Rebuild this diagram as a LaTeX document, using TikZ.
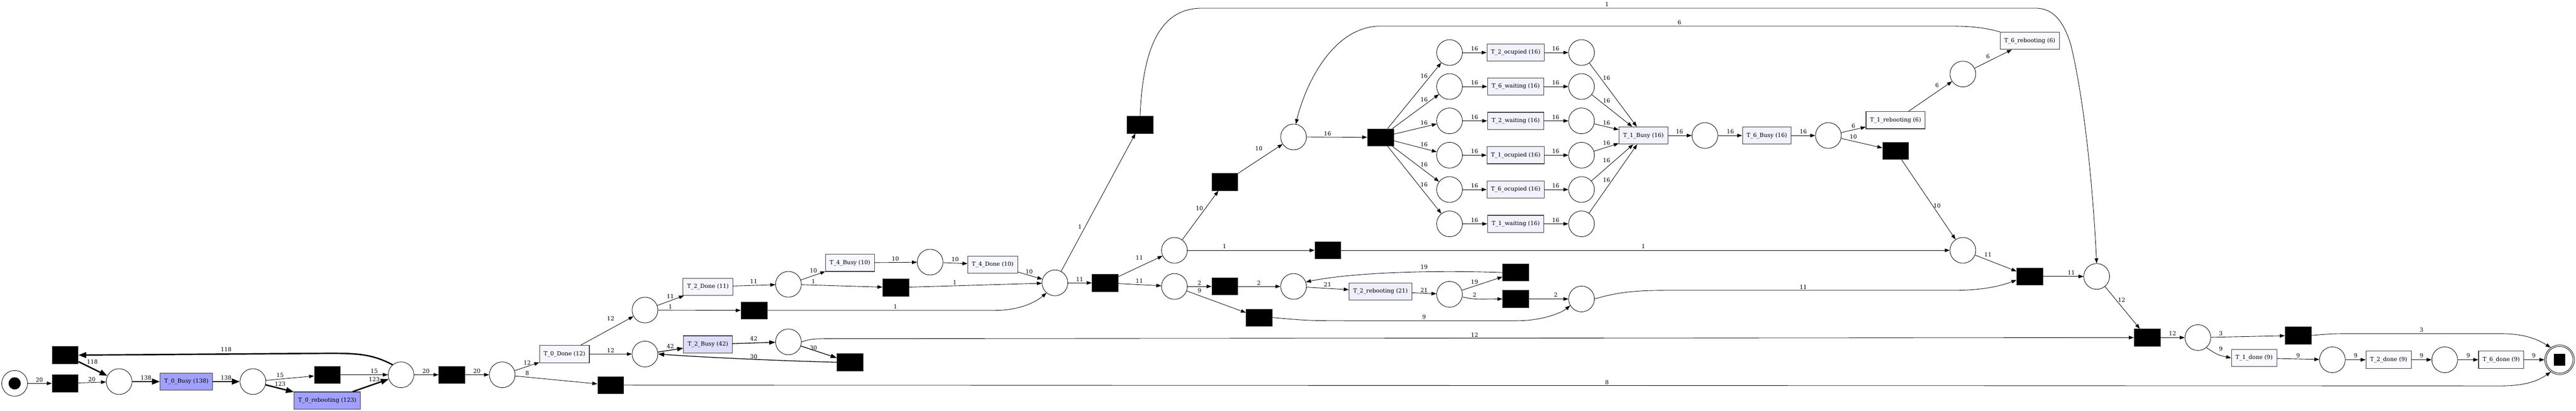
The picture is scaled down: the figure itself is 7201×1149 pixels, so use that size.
\documentclass[tikz,border=0pt]{standalone}
\usepackage{fontspec}
\setmainfont{DejaVu Serif}
\usetikzlibrary{arrows.meta}
\definecolor{busyblue}{RGB}{160,160,255}
\definecolor{lav}{RGB}{221,221,252}
\definecolor{lav2}{RGB}{238,238,253}
\definecolor{lav3}{RGB}{242,242,255}
\definecolor{pale}{RGB}{246,246,255}
\definecolor{pale2}{RGB}{249,249,255}
\definecolor{bord}{RGB}{60,60,60}
\begin{document}
\begin{tikzpicture}[x=0.01cm,y=-0.01cm,
 every node/.style={font=\fontsize{4.52}{5.4}\selectfont},
 plc/.style={circle,draw=black,line width=0.35pt,minimum size=0.72cm,inner sep=0pt},
 blk/.style={rectangle,fill=black,draw=bord,line width=0.3pt,minimum width=0.73cm,minimum height=0.48cm,inner sep=0pt},
 act/.style={rectangle,draw=bord,line width=0.45pt,fill=pale,minimum height=0.48cm,inner xsep=0.115cm,inner ysep=0pt},
 ed/.style={draw=black,line width=0.35pt,-{Triangle[length=0.14cm,width=0.1cm]}},
 edm/.style={draw=black,line width=0.55pt,-{Triangle[length=0.17cm,width=0.12cm]}},
 edb/.style={draw=black,line width=1.1pt,-{Triangle[length=0.22cm,width=0.16cm]}},
 lbl/.style={inner sep=0pt}
]
\useasboundingbox (0,0) rectangle (7201,1149);
% nodes
\node[plc] (s) at (41,1072) {};
\node[circle,fill=black,minimum size=0.34cm,inner sep=0pt] (tok) at (s) {};
\node[blk] (tA) at (182,1072) {};
\node[blk] (tB) at (182,993) {};
\node[plc] (P1) at (333,1067) {};
\node[act,fill=busyblue] (T0B) at (521,1067) {T\_0\_Busy (138)};
\node[plc] (P2) at (707,1067) {};
\node[blk] (tC) at (915,1048) {};
\node[act,fill=busyblue] (T0R) at (915,1120) {T\_0\_rebooting (123)};
\node[plc] (P3) at (1121,1048) {};
\node[blk] (tD) at (1263,1048) {};
\node[plc] (P4) at (1404,1048) {};
\node[act] (T0D) at (1578,990) {T\_0\_Done (12)};
\node[blk] (tE) at (1707,1077) {};
\node[plc] (P5) at (1803,867) {};
\node[plc] (P6) at (1803,990) {};
\node[act] (T2D) at (1979,802) {T\_2\_Done (11)};
\node[blk] (tF) at (2108,868) {};
\node[act,fill=lav] (T2B) at (1979,963) {T\_2\_Busy (42)};
\node[plc] (P7) at (2204,795) {};
\node[plc] (P8) at (2204,956) {};
\node[blk] (tG) at (2376,1013) {};
\node[act] (T4B) at (2376,735) {T\_4\_Busy (10)};
\node[blk] (tH) at (2504,804) {};
\node[plc] (P9) at (2600,733) {};
\node[act] (T4D) at (2775,740) {T\_4\_Done (10)};
\node[plc] (P10) at (2949,791) {};
\node[blk] (tI) at (3089,791) {};
\node[blk] (tJ) at (3187,349) {};
\node[plc] (P11) at (3283,700) {};
\node[plc] (P12) at (3283,801) {};
\node[blk] (tK) at (3424,509) {};
\node[plc] (P13) at (3616,383) {};
\node[blk] (tL) at (3712,700) {};
\node[blk] (tM) at (3424,801) {};
\node[plc] (P14) at (3616,801) {};
\node[blk] (tN) at (3520,888) {};
\node[act,fill=lav2] (T2R) at (3859,815) {T\_2\_rebooting (21)};
\node[blk] (tX) at (3859,384) {};
\node[plc] (a1) at (4052,147) {};
\node[plc] (a2) at (4052,242) {};
\node[plc] (a3) at (4052,338) {};
\node[plc] (a4) at (4052,434) {};
\node[plc] (a5) at (4052,530) {};
\node[plc] (a6) at (4052,626) {};
\node[act,fill=lav3] (b1) at (4237,147) {T\_2\_ocupied (16)};
\node[act,fill=lav3] (b2) at (4237,242) {T\_6\_waiting (16)};
\node[act,fill=lav3] (b3) at (4237,338) {T\_2\_waiting (16)};
\node[act,fill=lav3] (b4) at (4237,434) {T\_1\_ocupied (16)};
\node[act,fill=lav3] (b5) at (4237,530) {T\_6\_ocupied (16)};
\node[act,fill=lav3] (b6) at (4237,626) {T\_1\_waiting (16)};
\node[plc] (c1) at (4421,147) {};
\node[plc] (c2) at (4421,242) {};
\node[plc] (c3) at (4421,338) {};
\node[plc] (c4) at (4421,434) {};
\node[plc] (c5) at (4421,530) {};
\node[plc] (c6) at (4421,626) {};
\node[act,fill=lav3] (T1B) at (4594,379) {T\_1\_Busy (16)};
\node[plc] (P15) at (4052,823) {};
\node[blk] (tO) at (4237,762) {};
\node[blk] (tP) at (4237,836) {};
\node[plc] (P16) at (4421,836) {};
\node[plc] (P17) at (4766,379) {};
\node[act,fill=lav3] (T6B) at (4939,379) {T\_6\_Busy (16)};
\node[plc] (P18) at (5111,379) {};
\node[act,fill=pale2] (T1R) at (5299,336) {T\_1\_rebooting (6)};
\node[blk] (tQ) at (5299,422) {};
\node[plc] (P19) at (5487,207) {};
\node[plc] (P20) at (5487,700) {};
\node[act,fill=pale2] (T6R) at (5674,114) {T\_6\_rebooting (6)};
\node[blk] (tR) at (5674,773) {};
\node[plc] (P21) at (5861,773) {};
\node[blk] (tS) at (6002,944) {};
\node[plc] (P22) at (6144,944) {};
\node[blk] (tT) at (6424,938) {};
\node[act,fill=pale2] (T1d) at (6301,1001) {T\_1\_done (9)};
\node[plc] (P23) at (6520,1006) {};
\node[act,fill=pale2] (T2d) at (6677,1006) {T\_2\_done (9)};
\node[plc] (P24) at (6834,1006) {};
\node[act,fill=pale2] (T6d) at (6992,1006) {T\_6\_done (9)};
\node[plc,minimum size=0.83cm] (fin) at (7155,1006) {};
\node[plc,minimum size=0.75cm] (fin2) at (fin) {};
\node[rectangle,fill=black,minimum size=0.32cm,inner sep=0pt] (fintok) at (fin) {};
% edges
\draw[ed] (s) -- (tA) node[lbl,at={(110,1062)}]{20};
\draw[ed] (tA) -- (P1) node[lbl,at={(257,1061)}]{20};
\draw[edb] (tB) -- (P1) node[lbl,at={(258,1012)}]{118};
\draw[edb] (P1) -- (T0B) node[lbl,at={(408,1056)}]{138};
\draw[edb] (T0B) -- (P2) node[lbl,at={(632,1056)}]{138};
\draw[ed] (P2) -- (tC) node[lbl,at={(783,1049)}]{15};
\draw[edb] (P2) -- (T0R) node[lbl,at={(783,1073)}]{123};
\draw[ed] (tC) -- (P3) node[lbl,at={(1046,1037)}]{15};
\draw[edb] (T0R) -- (P3) node[lbl,at={(1046,1061)}]{123};
\draw[edb] (P3.130) .. controls (1040,990) and (1000,988) .. (920,988) -- (tB.east) node[lbl,at={(632,977)}]{118};
\draw[ed] (P3) -- (tD) node[lbl,at={(1191,1037)}]{20};
\draw[ed] (tD) -- (P4) node[lbl,at={(1333,1037)}]{20};
\draw[ed] (P4) -- (T0D) node[lbl,at={(1474,1014)}]{12};
\draw[ed] (P4) -- (tE) node[lbl,at={(1474,1044)}]{8};
\draw[ed] (T0D) -- (P5) node[lbl,at={(1707,891)}]{12};
\draw[ed] (T0D) -- (P6) node[lbl,at={(1707,980)}]{12};
\draw[ed] (P5) -- (T2D) node[lbl,at={(1874,829)}]{11};
\draw[ed] (P5) -- (tF) node[lbl,at={(1874,858)}]{1};
\draw[edm] (P6) -- (T2B) node[lbl,at={(1874,969)}]{42};
\draw[edm] (tG.west) .. controls (2150,1008) and (1950,998) .. (P6.east) node[lbl,at={(2107,997)}]{30};
\draw[ed] (T2D) -- (P7) node[lbl,at={(2107,787)}]{11};
\draw[edm] (T2B) -- (P8) node[lbl,at={(2107,947)}]{42};
\draw[ed] (P7) -- (T4B) node[lbl,at={(2274,757)}]{10};
\draw[ed] (P7) -- (tH) node[lbl,at={(2274,787)}]{1};
\draw[edm] (P8) -- (tG) node[lbl,at={(2274,973)}]{30};
\draw[ed] (P8.east) .. controls (2270,947) .. (2360,947) -- (tS.west) node[lbl,at={(4122,937)}]{12};
\draw[ed] (T4B) -- (P9) node[lbl,at={(2503,724)}]{10};
\draw[ed] (P9) -- (T4D) node[lbl,at={(2670,725)}]{10};
\draw[ed] (T4D) -- (P10) node[lbl,at={(2877,759)}]{10};
\draw[ed] (tH) -- (P10) node[lbl,at={(2669,790)}]{1};
\draw[ed] (tF.east) -- (2780,868) .. controls (2850,868) and (2895,845) .. (P10.-130) node[lbl,at={(2503,857)}]{1};
\draw[ed] (tE.east) -- (6990,1079) .. controls (7060,1079) and (7095,1065) .. (fin.-126) node[lbl,at={(4492,1069)}]{8};
\draw[ed] (P10) -- (tI) node[lbl,at={(3018,781)}]{11};
\draw[ed] (P10) -- (tJ) node[lbl,at={(3019,634)}]{1};
\draw[ed] (tJ.north) .. controls (3195,120) and (3250,23) .. (3360,23) -- (5690,23) .. controls (5740,23) and (5770,60) .. (5790,130) .. controls (5830,300) and (5852,550) .. (P21.north) node[lbl,at={(4492,12)}]{1};
\draw[ed] (tI) -- (P11) node[lbl,at={(3185,720)}]{11};
\draw[ed] (tI) -- (P12) node[lbl,at={(3185,785)}]{11};
\draw[ed] (P11) -- (tK) node[lbl,at={(3353,582)}]{10};
\draw[ed] (P11) -- (tL) node[lbl,at={(3423,689)}]{1};
\draw[ed] (tK) -- (P13) node[lbl,at={(3519,415)}]{10};
\draw[ed] (P13) -- (tX) node[lbl,at={(3711,373)}]{16};
\draw[ed] (P12) -- (tM) node[lbl,at={(3353,791)}]{2};
\draw[ed] (P12) -- (tN) node[lbl,at={(3353,813)}]{9};
\draw[ed] (tM) -- (P14) node[lbl,at={(3519,791)}]{2};
\draw[ed] (tO.west) .. controls (4000,755) and (3780,762) .. (P14.20) node[lbl,at={(3981,747)}]{19};
\draw[ed] (P14) -- (T2R) node[lbl,at={(3711,795)}]{21};
\draw[ed] (T2R) -- (P15) node[lbl,at={(3981,811)}]{21};
\draw[ed] (P15) -- (tO) node[lbl,at={(4122,789)}]{19};
\draw[ed] (P15) .. controls (4120,837) .. (tP.west) node[lbl,at={(4122,825)}]{2};
\draw[ed] (tP) -- (P16) node[lbl,at={(4349,825)}]{2};
\draw[ed] (tN.east) .. controls (3660,897) .. (3800,897) -- (4240,897) .. controls (4310,897) and (4365,875) .. (P16.-150) node[lbl,at={(3981,886)}]{9};
\foreach \i/\yy/\la/\lc in {1/147/212/218,2/242/279/281,3/338/343/343,4/434/404/399,5/530/460/449,6/626/516/503} {
  \draw[ed] (tX) -- (a\i) node[lbl,at={(3981,\la)}]{16};
  \draw[ed] (a\i) -- (b\i) node[lbl,at={(4122,\yy-11)}]{16};
  \draw[ed] (b\i) -- (c\i) node[lbl,at={(4349,\yy-11)}]{16};
  \draw[ed] (c\i) -- (T1B) node[lbl,at={(4491,\lc)}]{16};
}
\draw[ed] (T1B) -- (P17) node[lbl,at={(4695,368)}]{16};
\draw[ed] (P17) -- (T6B) node[lbl,at={(4837,368)}]{16};
\draw[ed] (T6B) -- (P18) node[lbl,at={(5041,368)}]{16};
\draw[ed] (P18) -- (T1R) node[lbl,at={(5181,352)}]{6};
\draw[ed] (P18) -- (tQ) node[lbl,at={(5181,383)}]{10};
\draw[ed] (T1R) -- (P19) node[lbl,at={(5415,239)}]{6};
\draw[ed] (tQ) -- (P20) node[lbl,at={(5415,576)}]{10};
\draw[ed] (P19) -- (T6R) node[lbl,at={(5557,158)}]{6};
\draw[ed] (T6R.north west) .. controls (5540,75) and (5500,73) .. (5440,73) -- (3860,73) .. controls (3720,73) and (3645,250) .. (P13.80) node[lbl,at={(4695,63)}]{6};
\draw[ed] (tL) -- (P20) node[lbl,at={(4594,689)}]{1};
\draw[ed] (P20) -- (tR) node[lbl,at={(5557,712)}]{11};
\draw[ed] (P16.east) .. controls (4530,814) and (4590,812) .. (4660,812) -- (5460,812) .. controls (5550,812) and (5600,797) .. (tR.-165) node[lbl,at={(5041,803)}]{11};
\draw[ed] (tR) -- (P21) node[lbl,at={(5790,763)}]{11};
\draw[ed] (P21) -- (tS) node[lbl,at={(5931,839)}]{12};
\draw[ed] (tS) -- (P22) node[lbl,at={(6073,933)}]{12};
\draw[ed] (P22) -- (tT) node[lbl,at={(6208,933)}]{3};
\draw[ed] (P22.-50) .. controls (6200,993) .. (T1d.west) node[lbl,at={(6208,976)}]{9};
\draw[ed] (tT.east) .. controls (6520,933) .. (6590,933) -- (6990,933) .. controls (7060,933) and (7095,950) .. (fin.126) node[lbl,at={(6769,923)}]{3};
\draw[ed] (T1d) -- (P23) node[lbl,at={(6424,995)}]{9};
\draw[ed] (P23) -- (T2d) node[lbl,at={(6585,995)}]{9};
\draw[ed] (T2d) -- (P24) node[lbl,at={(6769,995)}]{9};
\draw[ed] (P24) -- (T6d) node[lbl,at={(6900,995)}]{9};
\draw[ed] (T6d) -- (fin) node[lbl,at={(7083,995)}]{9};
\end{tikzpicture}
\end{document}
